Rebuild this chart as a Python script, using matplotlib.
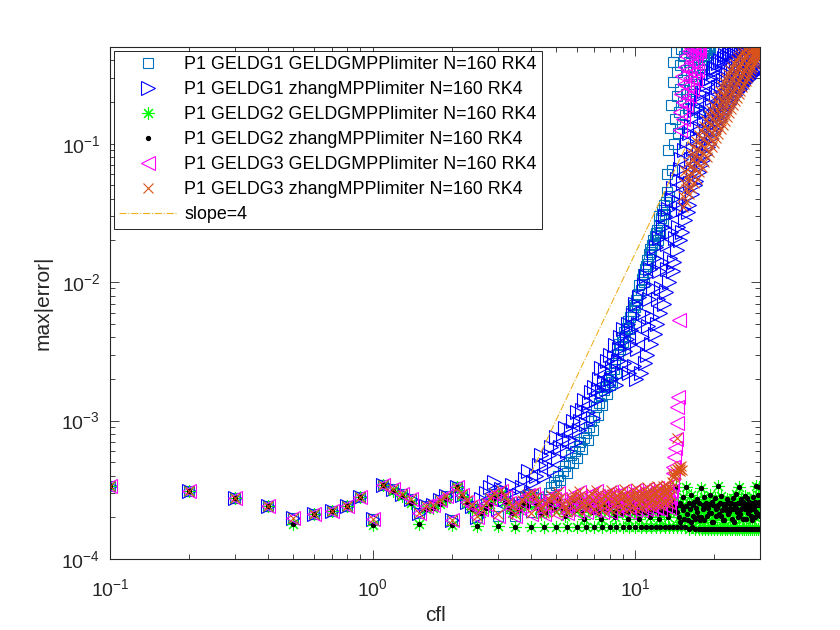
import numpy as np
import matplotlib.pyplot as plt

plt.rcParams['font.family'] = ['Liberation Sans', 'DejaVu Sans']
plt.rcParams['mathtext.fontset'] = 'custom'
plt.rcParams['mathtext.rm'] = 'Liberation Sans'
plt.rcParams['mathtext.it'] = 'Liberation Sans:italic'
plt.rcParams['mathtext.bf'] = 'Liberation Sans:bold'

# cfl grid 0.1, 0.2, ..., 30.0
cfl = np.arange(1, 301) / 10

# max|error| values, in units of 1e-4 (one row = one unit of cfl)
g1_mpp = [
    3.35, 3.08, 2.78, 2.40, 1.97, 2.10, 2.22, 2.40, 2.80, 1.95,
    3.45, 3.20, 2.95, 2.70, 2.15, 2.40, 2.45, 2.65, 2.85, 1.90,
    3.30, 2.90, 2.60, 2.40, 2.00, 2.30, 2.50, 2.70, 2.95, 2.05,
    3.10, 2.80, 2.55, 2.35, 2.05, 2.40, 2.60, 2.80, 2.90, 2.20,
    2.95, 2.75, 2.55, 2.45, 2.40, 2.70, 3.00, 3.30, 3.60, 3.40,
    4.00, 3.70, 4.30, 4.70, 4.20, 5.00, 5.60, 4.90, 6.00, 5.40,
    6.50, 7.00, 6.20, 7.50, 8.20, 7.30, 9.00, 10.0, 8.60, 10.7,
    12.5, 11.0, 13.5, 15.0, 13.0, 16.5, 17.5, 15.5, 19.5, 18.0,
    21.0, 19.0, 23.5, 26.0, 22.0, 30.0, 36.0, 33.0, 40.0, 37.0,
    44.0, 41.0, 47.0, 52.0, 46.0, 56.0, 62.0, 58.0, 68.0, 66.0,
    74.0, 70.0, 82.0, 95.0, 88.0, 105, 115, 100, 125, 130,
    145, 135, 160, 175, 165, 185, 200, 190, 215, 225,
    240, 200, 260, 300, 230, 290, 330, 280, 360, 310,
    380, 450, 600, 900, 420, 1300, 1900, 650, 2800, 3900,
    1000, 1500, 4600, 2200, 3300, 1200, 1700, 2500, 3700, 4800,
    1400, 2000, 2900, 4300, 1600, 2300, 3400, 4950, 1800, 2700,
    3900, 2100, 3100, 4500, 2400, 3600, 4900, 2700, 4100, 4700,
    3000, 4400, 3300, 4800, 1700, 3600, 4600, 4000, 4900, 3200,
    4300, 3700, 4700, 4100, 4900, 4500, 4800, 4400, 4950, 4600,
    4900, 4750, 4950,
]

g1_zhang = [
    3.35, 3.08, 2.78, 2.40, 1.97, 2.10, 2.22, 2.40, 2.80, 1.95,
    3.45, 3.20, 2.95, 2.70, 2.15, 2.40, 2.45, 2.65, 2.85, 1.90,
    3.30, 2.90, 2.60, 2.40, 2.00, 2.70, 3.00, 3.30, 3.60, 2.30,
    3.20, 2.70, 3.00, 3.40, 2.50, 2.90, 3.30, 3.80, 4.30, 3.00,
    3.60, 4.00, 4.80, 5.60, 4.00, 4.80, 5.60, 6.40, 4.50, 7.60,
    5.40, 6.40, 7.40, 8.80, 6.00, 7.20, 8.50, 10.0, 7.00, 11.5,
    8.50, 10.0, 12.0, 14.0, 9.50, 11.5, 13.5, 16.0, 10.5, 17.5,
    14.0, 17.0, 20.0, 24.0, 16.0, 19.0, 23.0, 27.0, 18.0, 30.0,
    20.0, 24.0, 29.0, 35.0, 18.0, 27.0, 33.0, 40.0, 22.0, 46.0,
    26.0, 32.0, 39.0, 50.0, 22.0, 36.0, 45.0, 58.0, 25.0, 70.0,
    20.0, 33.0, 50.0, 78.0, 22.0, 40.0, 60.0, 95.0, 26.0, 110,
    30.0, 48.0, 75.0, 125, 36.0, 56.0, 90.0, 150, 42.0, 180,
    50.0, 75.0, 120, 210, 60.0, 90.0, 140, 250, 70.0, 300,
    85.0, 125, 190, 340, 100, 150, 230, 400, 120, 480,
    140, 210, 320, 560, 170, 250, 380, 660, 200, 780,
    230, 340, 520, 900, 280, 410, 620, 1050, 320, 1200,
    360, 520, 780, 1350, 430, 620, 920, 1550, 500, 1750,
    540, 760, 1100, 1850, 620, 880, 1300, 2100, 700, 2300,
    760, 1050, 1500, 2400, 850, 1200, 1700, 2700, 950, 2950,
    1000, 1350, 1900, 3000, 1100, 1500, 2150, 3300, 1200, 3550,
    1250, 1650, 2300, 3500, 1350, 1800, 2550, 3800, 1450, 4000,
    1500, 1950, 2650, 3900, 1600, 2100, 2900, 4150, 1700, 4350,
    1750, 2250, 3000, 4250, 1850, 2400, 3200, 4450, 1950, 4600,
    2000, 2500, 3300, 4500, 2100, 2650, 3450, 4650, 2200, 4750,
    2250, 2750, 3550, 4650, 2350, 2900, 3650, 4750, 2450, 4850,
    2500, 3000, 3750, 4750, 2600, 3100, 3850, 4850, 2700, 4900,
    2750, 3200, 3900, 4850, 2850, 3300, 4000, 4900, 2950, 4950,
    3000, 3400, 4050, 4900, 3100, 3500, 4150, 4950, 3200, 4950,
    3200, 3600, 4200, 4950, 3300, 3700, 4300, 4950, 3400, 4950,
    3400, 3800, 4300, 4950, 3500, 3900, 4400, 4950, 3600, 4950,
]

g2_mpp = [
    3.35, 3.08, 2.78, 2.40, 1.80, 2.10, 2.22, 2.40, 2.80, 1.75,
    3.40, 3.10, 2.85, 2.55, 1.80, 2.30, 2.35, 2.50, 2.70, 1.75,
    3.30, 2.85, 2.55, 2.30, 1.72, 2.15, 2.35, 2.50, 2.75, 1.72,
    2.95, 2.60, 2.35, 2.15, 1.70, 2.25, 2.45, 2.60, 2.40, 1.70,
    2.80, 2.50, 2.30, 2.10, 1.70, 2.20, 2.45, 2.55, 2.30, 1.70,
    2.70, 2.45, 2.25, 2.05, 1.70, 2.30, 2.40, 2.60, 2.25, 1.70,
    2.65, 2.40, 2.20, 1.95, 1.70, 2.35, 2.50, 2.55, 2.20, 1.70,
    2.60, 2.35, 2.15, 1.95, 1.70, 2.30, 2.50, 2.60, 2.25, 1.70,
    2.65, 2.40, 2.20, 2.00, 1.70, 2.35, 2.45, 2.55, 2.15, 1.70,
    2.60, 2.40, 2.20, 1.95, 1.70, 2.30, 2.50, 2.60, 2.20, 1.70,
    2.55, 2.35, 2.15, 1.95, 1.70, 2.25, 2.45, 2.55, 2.20, 1.70,
    2.60, 2.40, 2.20, 2.00, 1.70, 2.30, 2.50, 2.60, 2.25, 1.70,
    2.55, 2.35, 2.15, 1.95, 1.70, 2.30, 2.45, 2.55, 2.20, 1.70,
    2.60, 2.40, 2.20, 2.00, 1.70, 2.35, 2.50, 2.60, 2.25, 1.70,
    2.50, 2.35, 3.30, 2.20, 1.70, 2.45, 2.00, 2.55, 1.85, 1.70,
    2.40, 2.80, 2.25, 1.95, 1.70, 2.40, 3.30, 2.10, 1.90, 1.66,
    2.55, 2.30, 2.90, 1.85, 1.70, 2.45, 2.05, 2.60, 1.95, 1.66,
    2.35, 2.70, 2.20, 2.00, 1.66, 2.55, 1.90, 3.25, 2.00, 1.66,
    2.45, 2.30, 2.80, 1.90, 1.66, 2.40, 2.55, 2.05, 2.35, 1.66,
    2.50, 2.15, 2.90, 2.15, 1.66, 2.60, 1.85, 2.45, 1.85, 1.66,
    2.40, 2.75, 2.30, 2.05, 1.66, 2.35, 2.45, 3.35, 2.10, 1.66,
    2.55, 2.05, 2.85, 2.25, 1.66, 2.50, 1.90, 2.40, 1.90, 1.66,
    2.35, 2.50, 2.25, 2.70, 1.66, 2.10, 2.60, 2.30, 2.20, 1.66,
    2.50, 2.30, 2.55, 1.95, 1.66, 2.75, 2.30, 2.50, 1.85, 1.66,
    2.40, 2.95, 2.35, 2.20, 1.66, 2.55, 2.00, 3.30, 2.05, 1.66,
    2.55, 2.10, 2.70, 2.30, 1.66, 2.35, 2.60, 2.45, 1.95, 1.66,
    2.45, 2.85, 2.30, 1.95, 1.66, 2.50, 2.35, 2.75, 2.15, 1.66,
    2.50, 2.35, 2.60, 2.25, 1.66, 2.05, 2.55, 2.30, 1.90, 1.66,
    2.40, 2.80, 2.35, 2.55, 1.66, 2.60, 2.00, 3.35, 2.20, 1.66,
    2.55, 2.45, 2.90, 2.10, 1.66, 2.45, 2.60, 3.30, 2.05, 1.66,
]

# the zhang limiter gives the same errors for GELDG2
g2_zhang = list(g2_mpp)

g3_mpp = [
    3.35, 3.08, 2.78, 2.40, 1.97, 2.10, 2.22, 2.40, 2.80, 1.95,
    3.45, 3.20, 2.95, 2.70, 2.15, 2.40, 2.45, 2.65, 2.85, 1.90,
    3.30, 2.90, 2.60, 2.40, 2.00, 2.30, 2.50, 2.70, 2.95, 2.05,
    3.10, 2.80, 2.55, 2.35, 2.05, 2.40, 2.60, 2.80, 2.90, 2.10,
    2.95, 2.75, 2.50, 2.30, 2.10, 2.45, 2.65, 2.85, 2.70, 2.15,
    3.00, 2.70, 2.45, 2.30, 2.15, 2.50, 2.70, 2.90, 2.65, 2.20,
    3.05, 2.80, 2.55, 2.40, 2.20, 2.45, 2.75, 2.95, 2.60, 2.25,
    3.10, 2.85, 2.60, 2.40, 2.20, 2.50, 2.80, 2.95, 2.70, 2.20,
    3.05, 2.90, 2.65, 2.45, 2.25, 2.55, 2.75, 3.00, 2.75, 2.30,
    3.10, 2.85, 2.60, 2.40, 2.20, 2.55, 2.80, 3.05, 2.80, 2.25,
    3.15, 2.95, 2.70, 2.45, 2.25, 2.60, 2.85, 3.10, 2.80, 2.30,
    3.20, 2.95, 2.70, 2.50, 2.30, 2.60, 2.90, 3.15, 2.85, 2.35,
    3.25, 3.00, 2.75, 2.55, 2.30, 2.65, 2.95, 3.20, 2.90, 2.40,
    3.30, 3.10, 2.85, 2.60, 2.35, 2.75, 3.10, 3.50, 4.20, 4.60,
    5.5, 6.3, 7.4, 9.6, 12.5, 14.7, 53, 1250, 1700, 2300,
    3100, 1500, 2000, 2700, 3600, 4300, 1900, 2600, 3400, 4700,
    2200, 3000, 3900, 4900, 2500, 3300, 4400, 4950, 2900, 3800,
    4500, 4900, 3400, 4800, 4950, 4700,
]

g3_zhang = [
    3.35, 3.08, 2.78, 2.40, 1.97, 2.10, 2.22, 2.40, 2.80, 1.95,
    3.45, 3.20, 2.95, 2.70, 2.15, 2.40, 2.45, 2.65, 2.85, 1.90,
    3.25, 2.95, 2.65, 2.45, 2.05, 2.35, 2.55, 2.75, 3.00, 2.10,
    3.15, 2.85, 2.60, 2.40, 2.10, 2.45, 2.65, 2.85, 2.95, 2.15,
    3.00, 2.80, 2.55, 2.35, 2.15, 2.50, 2.70, 2.90, 2.75, 2.20,
    3.05, 2.75, 2.50, 2.35, 2.20, 2.55, 2.75, 2.95, 2.70, 2.25,
    3.10, 2.85, 2.60, 2.45, 2.25, 2.50, 2.80, 3.00, 2.65, 2.30,
    3.15, 2.90, 2.65, 2.45, 2.25, 2.55, 2.85, 3.00, 2.75, 2.30,
    3.15, 2.95, 2.70, 2.50, 2.30, 2.60, 2.80, 3.05, 2.80, 2.35,
    3.20, 2.90, 2.65, 2.50, 2.30, 2.60, 2.85, 3.10, 2.85, 2.35,
    3.25, 3.00, 2.75, 2.55, 2.35, 2.65, 2.90, 3.15, 2.90, 2.40,
    3.30, 3.05, 2.80, 2.60, 2.40, 2.70, 2.95, 3.25, 3.00, 2.45,
    3.35, 3.10, 2.85, 2.65, 2.45, 2.75, 3.05, 3.35, 3.10, 2.55,
    3.45, 3.20, 3.00, 2.75, 2.55, 2.90, 3.25, 3.60, 3.90, 4.10,
    4.0, 4.3, 4.1, 4.5, 7.5, 4.4, 4.6, 4.3, 4.5, 4.7,
    4.4, 350, 420, 520, 640, 380, 470, 580, 720, 430,
    540, 680, 850, 480, 600, 760, 950, 520, 660, 830,
    1050, 560, 720, 900, 1150, 620, 790, 1000, 1250, 680,
    860, 1080, 1350, 740, 930, 1180, 1480, 800, 1010, 1280,
    1600, 870, 1100, 1390, 1750, 940, 1190, 1500, 1900, 1020,
    1290, 1620, 2050, 1100, 1390, 1760, 2200, 1180, 1500, 1900,
    2400, 1270, 1610, 2040, 2600, 1360, 1730, 2200, 2800, 1460,
    1860, 2360, 3000, 1560, 1990, 2530, 3200, 1670, 2130, 2700,
    3400, 1780, 2270, 2880, 3600, 1900, 2420, 3070, 3800, 2020,
    2580, 3260, 4000, 2150, 2740, 3450, 4200, 2280, 2900, 3650,
    4400, 2420, 3070, 3850, 4550, 2560, 3240, 4050, 4700, 2700,
    3420, 4250, 4850, 2850, 3600, 4400, 4950, 3000, 3780, 4550,
    3150, 3950, 4650, 3300, 4100, 4750, 3450, 4250, 4850, 3600,
    4350, 4900, 3750, 4450, 4950, 3900, 4550, 4800, 4050, 4650,
    4900, 4200, 4700, 4950, 4350, 4750, 4500, 4850, 4600, 4800,
]

# reference line of slope 4
slope_x = [4.0, 16.0]
slope_y = [4.1e-4, 0.105]

labels = ['P1 GELDG1 GELDGMPPlimiter N=160 RK4',
          'P1 GELDG1 zhangMPPlimiter N=160 RK4',
          'P1 GELDG2 GELDGMPPlimiter N=160 RK4',
          'P1 GELDG2 zhangMPPlimiter N=160 RK4',
          'P1 GELDG3 GELDGMPPlimiter N=160 RK4',
          'P1 GELDG3 zhangMPPlimiter N=160 RK4']

fig = plt.figure(figsize=(8.4, 6.3), dpi=100)
ax = fig.add_axes([0.131, 0.1127, 0.774, 0.8127])

def put(vals, **kw):
    y = np.array(vals) * 1e-4
    ax.plot(cfl[:len(y)], y, linestyle='none', markeredgewidth=0.8, **kw)

put(g1_mpp, marker='s', ms=7, color='#0072BD', fillstyle='none', label=labels[0])
put(g1_zhang, marker='>', ms=9.5, color='#0000FF', fillstyle='none', label=labels[1])
put(g2_mpp, marker=(8, 2, 0), ms=9, color='#00FF00', label=labels[2])
put(g2_zhang, marker='.', ms=6, color='black', label=labels[3])
put(g3_mpp, marker='<', ms=9.5, color='#FF00FF', fillstyle='none', label=labels[4])
put(g3_zhang, marker='x', ms=7.5, color='#D95319', label=labels[5])
ax.plot(slope_x, slope_y, linestyle='-.', color='#EDB120', lw=0.8, label='slope=4')

ax.set_xscale('log')
ax.set_yscale('log')
ax.set_xlim(0.1, 30)
ax.set_ylim(1e-4, 0.5)

dark = '#262626'
for s in ax.spines.values():
    s.set_color(dark)
    s.set_linewidth(0.8)
ax.tick_params(which='both', direction='in', top=True, right=True,
               colors=dark, labelsize=14, width=0.6)
ax.tick_params(which='major', length=6.5)
ax.tick_params(which='minor', length=3.5)
ax.tick_params(axis='x', which='major', pad=14)
ax.tick_params(axis='y', which='major', pad=7)

ax.set_xlabel('cfl', fontsize=15, color=dark, labelpad=4)
ax.set_ylabel('max|error|', fontsize=15, color=dark, labelpad=6)

leg = ax.legend(loc='upper left', fontsize=12.9, numpoints=1, fancybox=False,
                framealpha=1, edgecolor='black', handlelength=3.2,
                handletextpad=0.45, borderpad=0.3, borderaxespad=0.2,
                labelspacing=0.45)
leg.get_frame().set_linewidth(0.6)

fig.savefig('out.png', dpi=100)
